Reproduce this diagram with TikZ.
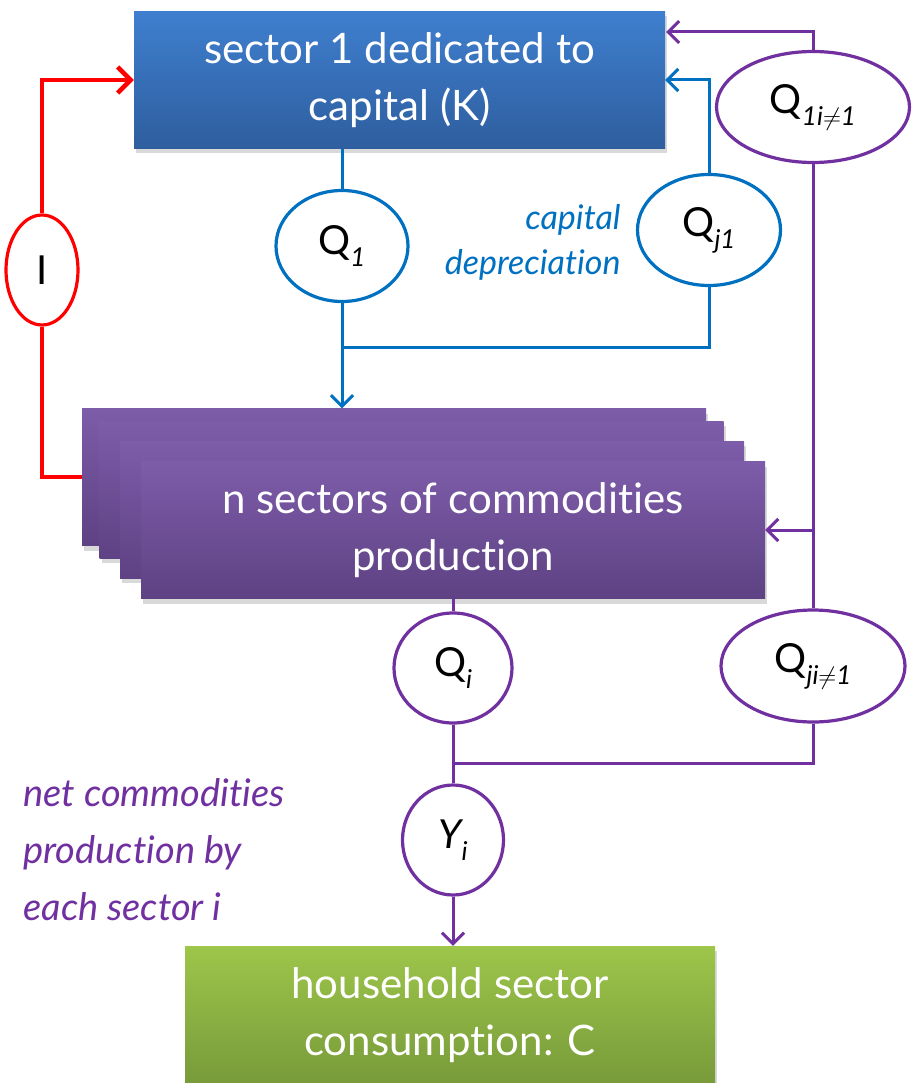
\documentclass[tikz,border=0pt]{standalone}
\usepackage{fontspec}
\setmainfont{Lato}[Ligatures=NoCommon]
\usetikzlibrary{shapes.geometric,arrows.meta,shadows}
\definecolor{cblue}{HTML}{0070C0}
\definecolor{cpurple}{HTML}{7030A0}
\definecolor{cred}{HTML}{FF0000}
\definecolor{bluetop}{HTML}{3F7FCF}
\definecolor{bluebot}{HTML}{2E5E9E}
\definecolor{purtop}{HTML}{7D5CA9}
\definecolor{purbot}{HTML}{5E4283}
\definecolor{grtop}{HTML}{9DC64A}
\definecolor{grbot}{HTML}{789A3A}
\newcommand{\Qlab}[2]{{\fontsize{40}{40}\selectfont #1}\raisebox{-12pt}{\fontsize{26}{26}\selectfont\itshape #2}}
\newcommand{\myneq}{\ensuremath{\neq}}
\begin{document}
\begin{tikzpicture}[x=1pt,y=-1pt,
  box/.style={rectangle, minimum width=#1, minimum height=137, inner sep=0, text=white, align=center,
    font=\fontsize{42}{57}\selectfont, drop shadow={shadow xshift=2pt, shadow yshift=-5pt, opacity=0.3}},
  bluebox/.style={box=531, top color=bluetop, bottom color=bluebot},
  purbox/.style={box=624, top color=purtop, bottom color=purbot},
  grbox/.style={box=530, minimum height=138, top color=grtop, bottom color=grbot},
  ell/.style={ellipse, draw=#1, line width=3.2pt, fill=white, inner sep=0, text=black},
  conn/.style={line width=3pt, draw=#1},
  arr/.style={-{Straight Barb[length=11pt, width=22pt, line width=3pt]}},
  note/.style={font=\fontsize{34}{45}\selectfont\itshape, align=right, text=#1}
]
\useasboundingbox (0,0) rectangle (916,1083);
% boxes
\node[bluebox] (K) at (399.5,80) {sector 1 dedicated to\\capital (K)};
\node[purbox] (p1) at (394,477) {};
\node[purbox] (p2) at (411.5,489.5) {};
\node[purbox] (p3) at (432,509.5) {};
\node[purbox] (p4) at (453,530) {n sectors of commodities\\production};
\node[grbox] (G) at (450,1015) {household sector\\consumption: C};
% ellipses
\node[ell=cred, minimum width=72, minimum height=110] (I) at (42,270) {\fontsize{40}{40}\selectfont I};
\node[ell=cblue, minimum width=132, minimum height=111] (Q1) at (342,246) {\Qlab{Q}{1}};
\node[ell=cblue, minimum width=143, minimum height=111] (Qj1) at (709,230) {\Qlab{Q}{j1}};
\node[ell=cpurple, minimum width=193, minimum height=111] (Q1i) at (813,107) {\Qlab{Q}{1i\myneq1}};
\node[ell=cpurple, minimum width=184, minimum height=112] (Qji) at (813,666) {\Qlab{Q}{ji\myneq1}};
\node[ell=cpurple, minimum width=118, minimum height=110] (Qi) at (453,668) {\Qlab{Q}{i}};
\node[ell=cpurple, minimum width=101, minimum height=110] (Yi) at (453,840) {\Qlab{\itshape Y}{i}};
% notes
\node[note=cblue, anchor=east] (cd) at (624,242) {capital\\depreciation};
\node[note=cpurple, anchor=west, align=left, font=\fontsize{38}{57}\selectfont\itshape] (nc) at (20,850) {net commodities\\production by\\each sector i};
% coordinates
\coordinate (jb) at (342,347);
\coordinate (jp) at (453,763);
\coordinate (kin) at (666,32);
% red
\draw[conn=cred, line width=4.5pt] (I.south) |- (p1.west);
\draw[conn=cred, line width=4.5pt, -{Straight Barb[length=13pt, width=26pt, line width=4.5pt]}] (I.north) |- (K.west);
% blue
\draw[conn=cblue] (Q1.north) -- (Q1.north |- K.south);
\draw[conn=cblue, arr] (Q1.south) -- (Q1.south |- p1.north);
\draw[conn=cblue] (Qj1.south) |- (jb);
\draw[conn=cblue, arr] (Qj1.north) |- (K.east);
% purple
\draw[conn=cpurple, arr] (Q1i.north) |- (kin);
\draw[conn=cpurple] (Q1i.south) -- (Qji.north);
\draw[conn=cpurple, arr] (Q1i.south |- p4.east) -- (p4.east);
\draw[conn=cpurple] (p4.south) -- (Qi.north);
\draw[conn=cpurple] (Qi.south) -- (Yi.north);
\draw[conn=cpurple] (Qji.south) |- (jp);
\draw[conn=cpurple, arr] (Yi.south) -- (Yi.south |- G.north);
\end{tikzpicture}
\end{document}
